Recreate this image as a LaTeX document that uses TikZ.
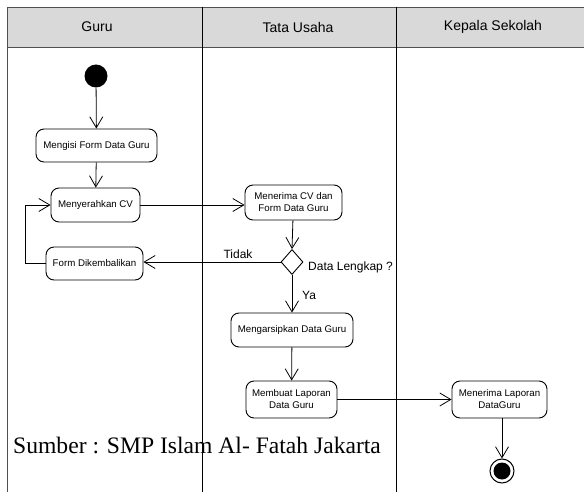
\documentclass[tikz,border=0pt]{standalone}
\usepackage{fontspec}
\setmainfont{Liberation Serif}
\newfontfamily\arialfont{Liberation Sans}
\usetikzlibrary{arrows.meta,shapes.geometric}
\definecolor{headgray}{HTML}{D9D9D9}
\definecolor{rulegray}{HTML}{505050}
\tikzset{
  actbox/.style={draw, rounded corners=8pt, line width=0.9pt, align=center,
    inner sep=0pt, font=\arialfont\fontsize{9.7}{12}\selectfont},
  flow/.style={line width=0.8pt, -{Straight Barb[length=11pt,width=13pt,line width=0.8pt]}},
  lbl/.style={font=\arialfont\fontsize{12}{14}\selectfont, inner sep=0pt},
  lane/.style={line width=0.9pt},
  headtext/.style={font=\arialfont\fontsize{14}{16}\selectfont},
}
\begin{document}
\begin{tikzpicture}[x=1pt,y=-1pt]
\useasboundingbox (0,0) rectangle (584,492);

% swimlane header and borders
\fill[headgray] (7,7) rectangle (584,47);
\draw[lane, rulegray] (7,492) -- (7,7) -- (584,7);
\draw[lane, rulegray] (7,47) -- (584,47);
\draw[lane] (202,7) -- (202,492);
\draw[lane] (396,7) -- (396,492);
\node[headtext] (hguru) at (97,27) {Guru};
\node[headtext] (htu) at (298,27) {Tata Usaha};
\node[headtext] (hks) at (493,27) {Kepala Sekolah};

% source note
\node[anchor=west, inner sep=0pt, font=\fontsize{23.6}{28}\selectfont] (src) at (13,445) {Sumber : SMP Islam Al- Fatah Jakarta};

% start and end
\node[circle, fill=black, minimum size=23pt, inner sep=0pt] (start) at (96,76) {};
\node[circle, draw, line width=1pt, minimum size=24pt, inner sep=0pt] (finish) at (502,471) {};
\node[circle, fill=black, minimum size=17pt, inner sep=0pt] (finishdot) at (502,471) {};

% activities
\node[actbox, minimum width=121pt, minimum height=33pt] (isi) at (96.5,145.5) {Mengisi Form Data Guru};
\node[actbox, minimum width=89pt, minimum height=34pt] (serah) at (95.5,205) {Menyerahkan CV};
\node[actbox, minimum width=97pt, minimum height=33pt] (kembali) at (94.5,263.5) {Form Dikembalikan};
\node[actbox, minimum width=97pt, minimum height=35pt] (terima) at (293.5,202.5) {Menerima CV dan\\Form Data Guru};
\node[diamond, draw, line width=0.9pt, minimum width=22pt, minimum height=25pt, inner sep=0pt] (cek) at (292,262) {};
\node[actbox, minimum width=122pt, minimum height=34pt] (arsip) at (292,330) {Mengarsipkan Data Guru};
\node[actbox, minimum width=91pt, minimum height=37pt] (lapor) at (291.5,399.5) {Membuat Laporan\\Data Guru};
\node[actbox, minimum width=95pt, minimum height=37pt] (terimalap) at (499.5,399.5) {Menerima Laporan\\DataGuru};

% loop-back corner points
\coordinate (lb) at (25,263.5);
\coordinate (lt) at (25,205);

% flows
\draw[flow] (start) -- (isi);
\draw[flow] (isi) -- (serah);
\draw[flow] (serah.east) -- (terima.west |- serah.east);
\draw[flow] (terima) -- (cek.north);
\draw[flow] (cek.west) -- (kembali.east |- cek.west);
\draw[flow] (kembali.west) -- (lb) -- (lt) -- (serah.west);
\draw[flow] (cek.south) -- (arsip);
\draw[flow] (arsip) -- (lapor);
\draw[flow] (lapor.east) -- (terimalap.west);
\draw[flow] (terimalap.south -| finish) -- (finish.north);

% guard labels
\node[lbl, anchor=south] (tidak) at (238,259) {Tidak};
\node[lbl, anchor=west] (lengkap) at (308,267) {Data Lengkap ?};
\node[lbl, anchor=west] (ya) at (302,295) {Ya};
\end{tikzpicture}
\end{document}
